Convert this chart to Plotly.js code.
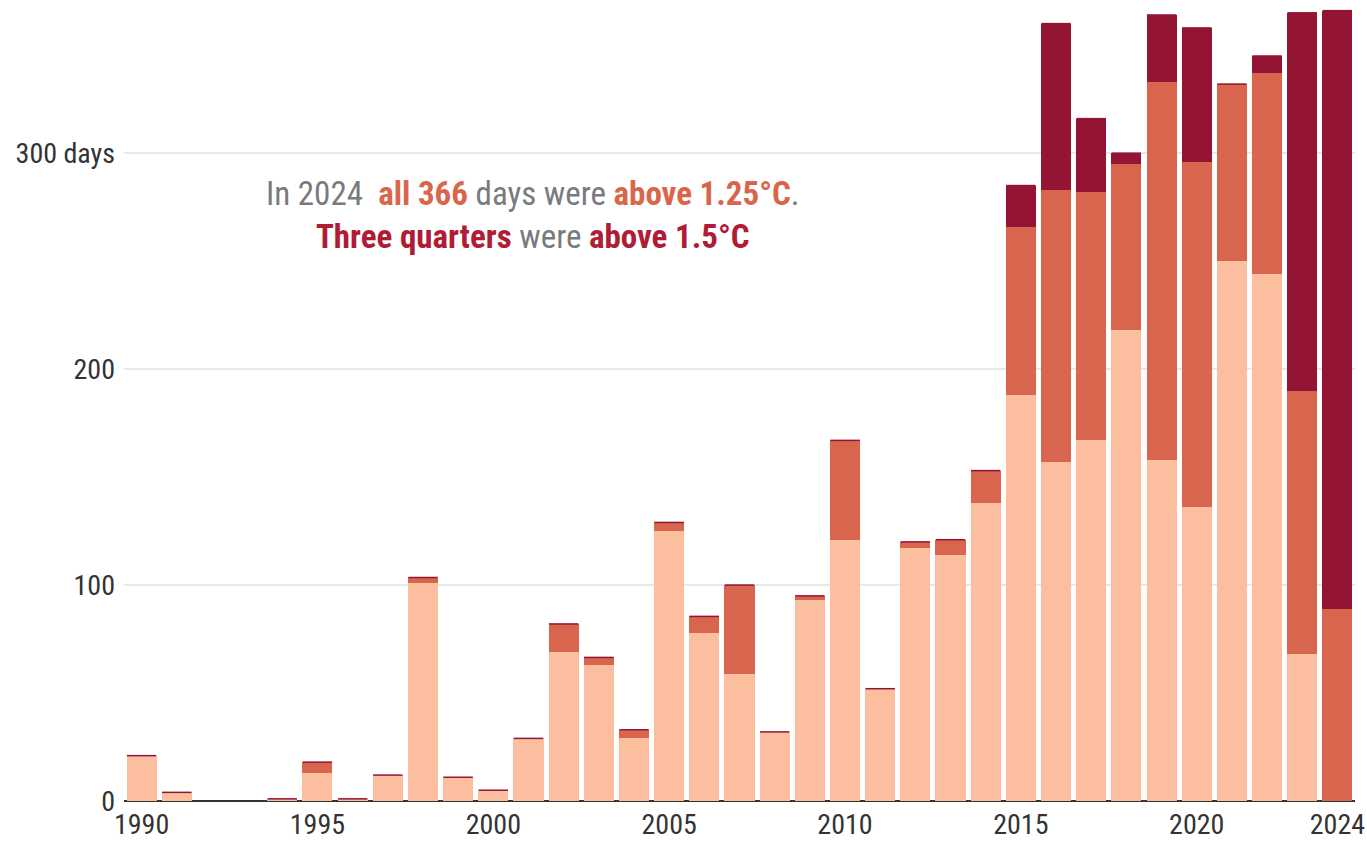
<!DOCTYPE html>
<html>
<head>
<meta charset="utf-8">
<script src="https://cdn.plot.ly/plotly-3.0.1.min.js"></script>
<style>
html,body{margin:0;padding:0;background:#fff;}
#chart{width:1367px;height:845px;}
</style>
</head>
<body>
<div id="chart"></div>
<script>
// Years 1990–2024
const years = [1990,1991,1992,1993,1994,1995,1996,1997,1998,1999,
               2000,2001,2002,2003,2004,2005,2006,2007,2008,2009,
               2010,2011,2012,2013,2014,2015,2016,2017,2018,2019,
               2020,2021,2022,2023,2024];
// Days 1.0–1.25°C above pre-industrial
const daysAbove100 = [21,4,null,null,1,13,1,12,101,11,
                      5,29,69,63,29,125,78,59,32,93,
                      121,52,117,114,138,188,157,167,218,158,
                      136,250,244,68,0];
// Days 1.25–1.5°C
const daysAbove125 = [0,0,null,null,0,5,0,0,2.5,0,
                      0,0,13,3.5,4,4,7.5,41,0,2,
                      46,0,3,7,15,78,126,115,77,175,
                      160,82,93,122,89];
// Days above 1.5°C
const daysAbove150 = [0,0,null,null,0,0,0,0,0,0,
                      0,0,0,0,0,0,0,0,0,0,
                      0,0,0,0,0,19,77,34,5,31,
                      62,0,8,175,277];
const xTickVals = [1990,1995,2000,2005,2010,2015,2020,2024];
const yTickVals = [0,100,200,300];
const yTickText = ["0","100","200","300 days"];

const totals = years.map((y,i) => daysAbove100[i] === null ? null :
  daysAbove100[i] + daysAbove125[i] + daysAbove150[i]);

const FONT = "'Roboto Condensed', 'Liberation Sans Narrow', 'DejaVu Sans Condensed', Roboto, sans-serif";
const C_LIGHT = "#fbbe9f", C_MED = "#d8654e", C_DARK = "#941433";

const traces = [
  {type:'bar', x:years, y:daysAbove100, name:'1.0–1.25°C', marker:{color:C_LIGHT}, hoverinfo:'x+y'},
  {type:'bar', x:years, y:daysAbove125, name:'1.25–1.5°C', marker:{color:C_MED}, hoverinfo:'x+y'},
  {type:'bar', x:years, y:daysAbove150, name:'above 1.5°C', marker:{color:C_DARK}, hoverinfo:'x+y'},
  {type:'scatter', mode:'markers', x:years, y:totals, showlegend:false, hoverinfo:'skip',
   marker:{symbol:'line-ew', size:21, color:C_DARK, line:{color:C_DARK, width:1.5}}}
];

const layout = {
  width:1367, height:845,
  margin:{l:124, r:12, t:2, b:44},
  barmode:'stack', bargap:0.145,
  showlegend:false,
  paper_bgcolor:'#fff', plot_bgcolor:'#fff',
  font:{family:FONT, color:'#333'},
  xaxis:{
    range:[1989.5, 2024.5], tickvals:xTickVals, ticks:'', showgrid:false,
    zeroline:false, showline:false, ticklabelstandoff:4,
    tickfont:{family:FONT, size:28, color:'#333'}
  },
  yaxis:{
    range:[0, 370], tickvals:yTickVals, ticktext:yTickText, ticks:'',
    showgrid:true, gridcolor:'#e8e8e8', gridwidth:2,
    zeroline:true, zerolinecolor:'#333', zerolinewidth:2,
    tickfont:{family:FONT, size:28, color:'#333'}, ticklabelstandoff:8
  },
  annotations:[{
    xref:'paper', yref:'paper', x:0.332, y:0.734, xanchor:'center', yanchor:'middle',
    showarrow:false, align:'center',
    font:{family:FONT, size:33, color:'#777b7e'},
    text:"In 2024  <b><span style='color:#d9664b'>all 366</span></b> days were <b><span style='color:#d9664b'>above 1.25°C</span></b>.<br>" +
         "<b><span style='color:#b11c35'>Three quarters</span></b> were <b><span style='color:#b11c35'>above 1.5°C</span></b>"
  }]
};

Plotly.newPlot('chart', traces, layout, {displayModeBar:false, staticPlot:true});
</script>
</body>
</html>
